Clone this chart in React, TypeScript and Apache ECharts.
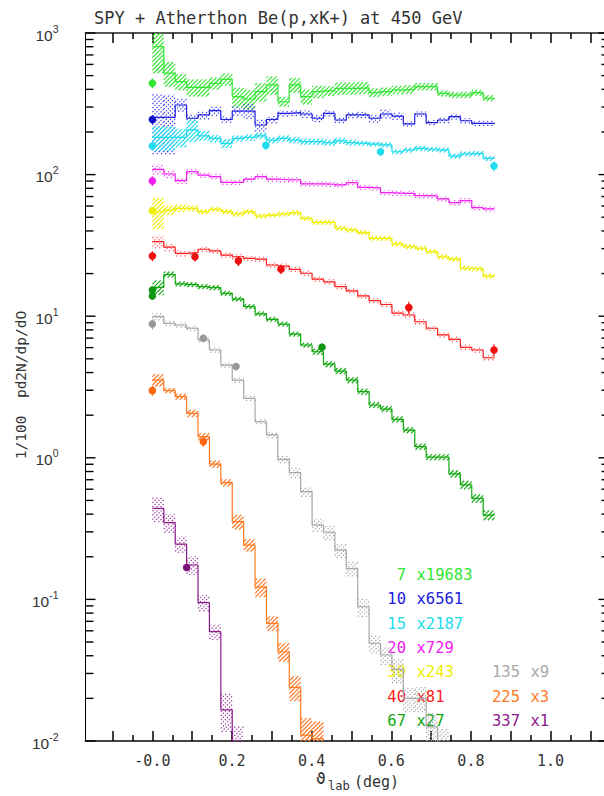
import React, { useEffect, useRef } from 'react';
import * as echarts from 'echarts';

// ---------- axes ----------
const X_MIN = -0.168;
const X_MAX = 1.138;
const Y_MIN = 0.01;
const Y_MAX = 1000;
const X_TICK_LABELS = [0, 0.2, 0.4, 0.6, 0.8, 1.0];
const X_MAJOR_TICKS = [-0.1, 0, 0.1, 0.2, 0.3, 0.4, 0.5, 0.6, 0.7, 0.8, 0.9, 1.0, 1.1];
const X_MINOR_TICKS = [-0.05, 0.05, 0.15, 0.25, 0.35, 0.45, 0.55, 0.65, 0.75, 0.85, 0.95, 1.05];
const Y_DECADES = [0.01, 0.1, 1, 10, 100, 1000];
const Y_MINOR_MULT = [2, 3, 4, 5, 6, 7, 8, 9];

// ---------- histogram binning (0.5 mrad bins, 0..15 mrad) ----------
const BIN_WIDTH_DEG = 0.028648;

// ---------- legend ----------
const ENERGY_LABELS = ['7', '10', '15', '20', '30', '40', '67', '135', '225', '337'];
const SCALE_LABELS = ['x19683', 'x6561', 'x2187', 'x729', 'x243', 'x81', 'x27', 'x9', 'x3', 'x1'];

// ---------- model histograms (bin contents, already scaled) ----------
const H7 = [800, 520, 453, 413, 413, 441, 471, 355, 342, 385, 430, 327, 430, 355, 385, 390, 407, 407, 410, 379, 385, 396, 400, 418, 418, 375, 365, 365, 379, 346];
const H10 = [254, 254, 310, 250, 264, 283, 245, 281, 281, 224, 245, 271, 274, 268, 250, 271, 243, 264, 264, 250, 268, 259, 228, 268, 233, 243, 257, 240, 230, 230];
const H15 = [183, 183, 183, 207, 188, 180, 166, 180, 183, 188, 175, 180, 175, 171, 171, 168, 173, 168, 166, 164, 162, 145, 149, 153, 151, 149, 135, 140, 141, 130];
const H20 = [109, 101, 90.6, 105, 99, 96.7, 88, 88, 93, 96.7, 93, 92, 92, 86, 86, 85.5, 84.5, 87.7, 81.3, 80.5, 74.5, 73.8, 73.8, 71, 70.7, 67.3, 63.4, 65.5, 58.4, 57.2];
const H30 = [54.7, 56.2, 57.8, 57.8, 54.7, 56.9, 54.7, 52.7, 54.7, 51, 51.8, 52.7, 53.8, 49.1, 46, 46, 41.8, 40.6, 38.9, 35.5, 35.5, 32.4, 31, 30.2, 28.6, 26.3, 25.3, 21.8, 21.6, 19.2];
const H40 = [33.6, 30.7, 27.8, 28.1, 29.7, 28.9, 27, 26.3, 25.6, 25.3, 23, 22.6, 21.4, 20.1, 18.3, 17.5, 16.2, 15.1, 13.9, 12.9, 12.1, 10.5, 10.2, 9.14, 8.22, 7.37, 6.87, 6.03, 5.77, 5.09];
const H67 = [16, 19.7, 16.9, 16.7, 16.2, 15.9, 14.5, 13.2, 11.7, 10.4, 9.5, 8.8, 7.48, 6.26, 5.61, 4.59, 4.1, 3.54, 2.93, 2.36, 2.21, 1.87, 1.57, 1.2, 1.01, 1.01, 0.77, 0.643, 0.517, 0.394];
const H135 = [9.93, 8.9, 8.67, 8.22, 6.8, 5.77, 4.52, 3.54, 2.63, 1.8, 1.45, 0.975, 0.785, 0.577, 0.335, 0.298, 0.223, 0.165, 0.0887, 0.049, 0.0405, 0.032, 0.02, 0.02, 0.0126, 0.0095];
const H225 = [3.54, 2.98, 2.7, 2.06, 1.41, 0.903, 0.667, 0.354, 0.242, 0.122, 0.0678, 0.0427, 0.0239, 0.011, 0.0104];
const H337 = [0.44, 0.348, 0.246, 0.175, 0.0948, 0.0592, 0.0166, 0.0098];

// ---------- relative half-width of the hatched error bands ----------
const E7 = [0.35, 0.2, 0.13, 0.14, 0.14, 0.1, 0.1, 0.16, 0.16, 0.15, 0.15, 0.08, 0.12, 0.12, 0.1, 0.08, 0.1, 0.1, 0.1, 0.07, 0.07, 0.07, 0.07, 0.06, 0.06, 0.05, 0.05, 0.05, 0.05, 0.05];
const E10 = [0.45, 0.45, 0.1, 0.07, 0.07, 0.08, 0.05, 0.07, 0.12, 0.1, 0.06, 0.05, 0.05, 0.06, 0.06, 0.05, 0.05, 0.05, 0.05, 0.07, 0.07, 0.06, 0.04, 0.04, 0.04, 0.05, 0.05, 0.04, 0.04, 0.04];
const E15 = [0.2, 0.2, 0.15, 0.18, 0.08, 0.06, 0.07, 0.05, 0.05, 0.05, 0.05, 0.05, 0.05, 0.05, 0.05, 0.05, 0.05, 0.05, 0.04, 0.04, 0.04, 0.04, 0.04, 0.04, 0.04, 0.04, 0.04, 0.04, 0.04, 0.04];
const E20 = [0.08, 0.06, 0.05, 0.04, 0.04, 0.04, 0.04, 0.04, 0.04, 0.04, 0.04, 0.04, 0.04, 0.04, 0.04, 0.04, 0.04, 0.04, 0.04, 0.04, 0.04, 0.04, 0.04, 0.04, 0.04, 0.04, 0.04, 0.04, 0.04, 0.04];
const E30 = [0.25, 0.08, 0.06, 0.05, 0.04, 0.04, 0.04, 0.04, 0.04, 0.04, 0.04, 0.04, 0.04, 0.04, 0.04, 0.04, 0.04, 0.04, 0.04, 0.04, 0.04, 0.04, 0.04, 0.04, 0.04, 0.04, 0.04, 0.04, 0.04, 0.04];
const E40 = [0.1, 0.06, 0.05, 0.04, 0.04, 0.04, 0.04, 0.04, 0.04, 0.04, 0.04, 0.04, 0.04, 0.04, 0.04, 0.04, 0.04, 0.04, 0.04, 0.04, 0.04, 0.04, 0.04, 0.04, 0.04, 0.04, 0.04, 0.04, 0.04, 0.04];
const E67 = [0.12, 0.05, 0.04, 0.04, 0.04, 0.04, 0.04, 0.04, 0.04, 0.04, 0.04, 0.04, 0.04, 0.04, 0.05, 0.05, 0.05, 0.05, 0.05, 0.05, 0.05, 0.05, 0.05, 0.05, 0.05, 0.05, 0.06, 0.07, 0.07, 0.08];
const E135 = [0.06, 0.04, 0.04, 0.04, 0.04, 0.04, 0.04, 0.04, 0.04, 0.04, 0.05, 0.06, 0.08, 0.08, 0.1, 0.12, 0.12, 0.12, 0.15, 0.15, 0.15, 0.2, 0.2, 0.2, 0.25, 0.3];
const E225 = [0.1, 0.04, 0.05, 0.06, 0.06, 0.06, 0.06, 0.12, 0.1, 0.15, 0.12, 0.15, 0.2, 0.32, 0.32];
const E337 = [0.2, 0.15, 0.13, 0.15, 0.13, 0.13, 0.3, 0.3];

// ---------- measured points: [theta (deg), value, relative error] ----------
const P7 = [[0, 442, 0.08]];
const P10 = [[0, 245, 0.07]];
const P15 = [[0, 159, 0.07], [0.285, 161, 0.07], [0.573, 145, 0.07], [0.858, 115, 0.08]];
const P20 = [[0, 90.2, 0.08]];
const P30 = [[0, 55.6, 0.06]];
const P40 = [[0, 26.6, 0.08], [0.107, 26.3, 0.08], [0.216, 24.6, 0.08], [0.323, 21.5, 0.08], [0.644, 11.5, 0.1], [0.858, 5.77, 0.1]];
const P67 = [[0, 15.3, 0.06], [0, 13.9, 0.06], [0.426, 6.03, 0.07]];
const P135 = [[0, 8.8, 0.08], [0.128, 6.98, 0.06], [0.21, 4.41, 0.06]];
const P225 = [[0, 2.98, 0.08], [0.128, 1.3, 0.08]];
const P337 = [[0.086, 0.168, 0.05]];

// ---------- styles ----------
const LINE_COLORS = ['#33e633', '#2020e0', '#20dcec', '#f020f0', '#eeee00', '#ff2020', '#10a810', '#a8a8a8', '#ff7a20', '#8a1a8a'];
const HATCH_COLORS = ['#3ce63c', '#3030f0', '#28dcf0', '#f038f0', '#eeee10', '#ff5050', '#18ac18', '#a0a0a0', '#ff7a28', '#9a309a'];
const POINT_COLORS = ['#33e633', '#1010c8', '#20dcec', '#f020f0', '#eeee00', '#f01010', '#109810', '#999999', '#ff6610', '#7a107a'];
const HATCH_DOTTED = [false, true, false, true, false, true, false, true, false, true];

const HISTS = [H7, H10, H15, H20, H30, H40, H67, H135, H225, H337];
const ERRS = [E7, E10, E15, E20, E30, E40, E67, E135, E225, E337];
const POINTS = [P7, P10, P15, P20, P30, P40, P67, P135, P225, P337];

const MONO = "'DejaVu Sans Mono', monospace";
const SANS = "'Liberation Sans', Arial, sans-serif";

function bandRender(color: string, dotted: boolean) {
  return (params: any, api: any) => {
    const x0 = api.value(0);
    const x1 = api.value(1);
    const lo = api.value(2);
    const hi = api.value(3);
    const pTop = api.coord([x0, hi]);
    const pBot = api.coord([x1, lo]);
    const cs = params.coordSys;
    const left = pTop[0];
    const right = pBot[0];
    const top = Math.max(pTop[1], cs.y);
    const bottom = Math.min(pBot[1], cs.y + cs.height);
    if (!(bottom > top)) return null;
    const s = 4.2;
    const children: any[] = [];
    const cStart = Math.ceil((left + top) / s) * s;
    for (let c = cStart; c <= right + bottom; c += s) {
      const xa = Math.max(left, c - bottom);
      const xb = Math.min(right, c - top);
      if (xb - xa < 0.4) continue;
      children.push({
        type: 'line',
        silent: true,
        shape: { x1: xa, y1: c - xa, x2: xb, y2: c - xb },
        style: dotted
          ? { stroke: color, lineWidth: 1.1, lineDash: [1.4, 1.5] }
          : { stroke: color, lineWidth: 1.2 },
      });
    }
    return { type: 'group', children };
  };
}

function pointRender(color: string) {
  return (params: any, api: any) => {
    const x = api.value(0);
    const y = api.value(1);
    const e = api.value(2);
    const p = api.coord([x, y]);
    const pHi = api.coord([x, y * (1 + e)]);
    const pLo = api.coord([x, y * (1 - e)]);
    return {
      type: 'group',
      children: [
        { type: 'line', shape: { x1: p[0], y1: pHi[1], x2: p[0], y2: pLo[1] }, style: { stroke: color, lineWidth: 1.2 } },
        { type: 'circle', shape: { cx: p[0], cy: p[1], r: 3.8 }, style: { fill: color } },
      ],
    };
  };
}

function yTickRender(params: any, api: any) {
  const cs = params.coordSys;
  const y = api.coord([X_MIN, api.value(1)])[1];
  const major = api.value(2) === 1;
  const lenL = major ? 10 : 8;
  const lenR = major ? 7 : 4;
  return {
    type: 'group',
    children: [
      { type: 'line', shape: { x1: cs.x, y1: y, x2: cs.x + lenL, y2: y }, style: { stroke: '#000', lineWidth: 1.4 } },
      { type: 'line', shape: { x1: cs.x + cs.width - lenR, y1: y, x2: cs.x + cs.width, y2: y }, style: { stroke: '#000', lineWidth: 1.4 } },
    ],
  };
}

function buildOption() {
  const series: any[] = [];
  HISTS.forEach((h, gi) => {
    const errs = ERRS[gi];
    const bands = h.map((v, i) => [i * BIN_WIDTH_DEG, (i + 1) * BIN_WIDTH_DEG, v * (1 - errs[i]), v * (1 + errs[i])]);
    series.push({
      type: 'custom',
      name: 'band' + ENERGY_LABELS[gi],
      coordinateSystem: 'cartesian2d',
      xAxisIndex: 0,
      yAxisIndex: 0,
      encode: { x: [0, 1], y: [2, 3] },
      renderItem: bandRender(HATCH_COLORS[gi], HATCH_DOTTED[gi]),
      data: bands,
      silent: true,
      z: 2,
    });
  });
  HISTS.forEach((h, gi) => {
    const pts = h.map((v, i) => [i * BIN_WIDTH_DEG, v]);
    pts.push([h.length * BIN_WIDTH_DEG, h[h.length - 1]]);
    series.push({
      type: 'line',
      name: 'hist' + ENERGY_LABELS[gi],
      step: 'end',
      showSymbol: false,
      symbol: 'none',
      data: pts,
      lineStyle: { color: LINE_COLORS[gi], width: 1.2 },
      silent: true,
      clip: true,
      z: 3,
    });
  });
  POINTS.forEach((pts, gi) => {
    series.push({
      type: 'custom',
      name: 'data' + ENERGY_LABELS[gi],
      coordinateSystem: 'cartesian2d',
      encode: { x: 0, y: 1 },
      renderItem: pointRender(POINT_COLORS[gi]),
      data: pts,
      silent: true,
      z: 4,
    });
  });
  const yTicks: number[][] = [];
  Y_DECADES.forEach((d, di) => {
    yTicks.push([X_MIN, d, 1]);
    if (di < Y_DECADES.length - 1) Y_MINOR_MULT.forEach((m) => yTicks.push([X_MIN, m * d, 0]));
  });
  series.push({
    type: 'custom',
    name: 'yticks',
    coordinateSystem: 'cartesian2d',
    encode: { x: 0, y: 1 },
    renderItem: yTickRender,
    data: yTicks,
    silent: true,
    z: 6,
  });

  const xBase = { type: 'value', min: X_MIN, max: X_MAX, splitLine: { show: false }, gridIndex: 0 };
  const legendGraphics: any[] = [];
  ENERGY_LABELS.forEach((lab, i) => {
    const col = i < 7 ? 0 : 1;
    const row = i < 7 ? i : i - 3;
    const y = 575 + row * 24.3;
    const xr = col === 0 ? 406 : 520;
    legendGraphics.push({
      type: 'text', x: xr, y, silent: true,
      style: { text: lab, font: `15.5px ${MONO}`, fill: LINE_COLORS[i], align: 'right', verticalAlign: 'middle' },
    });
    legendGraphics.push({
      type: 'text', x: xr + 10.5, y, silent: true,
      style: { text: SCALE_LABELS[i], font: `15.5px ${MONO}`, fill: LINE_COLORS[i], align: 'left', verticalAlign: 'middle' },
    });
  });

  return {
    animation: false,
    backgroundColor: '#ffffff',
    grid: { left: 85.5, top: 33, width: 520, height: 708, containLabel: false, outerBoundsMode: 'none' },
    xAxis: [
      {
        ...xBase,
        position: 'bottom',
        axisLine: { show: true, onZero: false, lineStyle: { color: '#444', width: 2 } },
        axisTick: { show: true, inside: true, length: 10, customValues: X_MAJOR_TICKS, lineStyle: { color: '#000', width: 1.5 } },
        axisLabel: {
          show: true,
          customValues: X_TICK_LABELS,
          margin: 12,
          fontFamily: MONO,
          fontSize: 15,
          color: '#333',
          formatter: (v: number) => (Math.abs(v) < 1e-9 ? '-0.0' : v.toFixed(1)),
        },
      },
      {
        ...xBase,
        position: 'bottom',
        axisLine: { show: false, onZero: false },
        axisTick: { show: true, inside: true, length: 6, customValues: X_MINOR_TICKS, lineStyle: { color: '#000', width: 1.5 } },
        axisLabel: { show: false },
      },
      {
        ...xBase,
        position: 'top',
        axisLine: { show: true, onZero: false, lineStyle: { color: '#555', width: 2 } },
        axisTick: { show: true, inside: true, length: 10, customValues: X_MAJOR_TICKS, lineStyle: { color: '#000', width: 1.5 } },
        axisLabel: { show: false },
      },
      {
        ...xBase,
        position: 'top',
        axisLine: { show: false, onZero: false },
        axisTick: { show: true, inside: true, length: 6, customValues: X_MINOR_TICKS, lineStyle: { color: '#000', width: 1.5 } },
        axisLabel: { show: false },
      },
    ],
    yAxis: {
      type: 'log',
      logBase: 10,
      min: Y_MIN,
      max: Y_MAX,
      splitNumber: 5,
      position: 'left',
      splitLine: { show: false },
      axisLine: { show: true, onZero: false, lineStyle: { color: '#000', width: 1 } },
      axisTick: { show: false },
      axisLabel: {
        show: true,
        margin: 27,
        verticalAlign: 'middle',
        formatter: (v: number) => `{b|10}{s|${Math.round(Math.log10(v))}}`,
        rich: {
          b: { fontFamily: SANS, fontSize: 15.5, lineHeight: 20, color: '#333', verticalAlign: 'bottom' },
          s: { fontFamily: SANS, fontSize: 10.5, lineHeight: 10, color: '#333', verticalAlign: 'top' },
        },
      },
    },
    series,
    graphic: [
      {
        type: 'text', x: 94, y: 18, silent: true,
        style: { text: 'SPY + Atherthon Be(p,xK+) at 450 GeV', font: `17px ${MONO}`, fill: '#333', verticalAlign: 'middle' },
      },
      {
        type: 'text', x: 21, y: 385, rotation: Math.PI / 2, silent: true,
        style: { text: '1/100  pd2N/dp/dO', font: `14.5px ${MONO}`, fill: '#333', align: 'center', verticalAlign: 'middle' },
      },
      {
        type: 'text', x: 316, y: 778, silent: true,
        style: { text: 'ϑ', font: `16px ${MONO}`, fill: '#333', verticalAlign: 'middle' },
      },
      {
        type: 'text', x: 328, y: 786, silent: true,
        style: { text: 'lab', font: `12px ${MONO}`, fill: '#333', verticalAlign: 'middle' },
      },
      {
        type: 'text', x: 354, y: 782, silent: true,
        style: { text: '(deg)', font: `15px ${MONO}`, fill: '#333', verticalAlign: 'middle' },
      },
      ...legendGraphics,
    ],
  };
}

export default function App() {
  const ref = useRef<HTMLDivElement>(null);
  useEffect(() => {
    if (!ref.current) return;
    const chart = echarts.init(ref.current, null, { renderer: 'svg' });
    chart.setOption(buildOption() as any);
    return () => chart.dispose();
  }, []);
  return (
    <div style={{ position: 'fixed', left: 0, top: 0, width: 604, height: 796, overflow: 'hidden', background: '#fff' }}>
      <div ref={ref} style={{ width: 612, height: 796 }} />
    </div>
  );
}
